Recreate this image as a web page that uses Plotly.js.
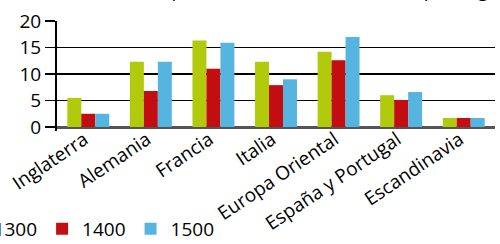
<!DOCTYPE html>
<html>
<head>
<meta charset="utf-8">
<script src="https://cdn.plot.ly/plotly-3.0.1.min.js"></script>
<style>html,body{margin:0;padding:0;background:#fff;}#chart{width:500px;height:244px;}</style>
</head>
<body>
<div id="chart"></div>
<script>
const categories = ["Inglaterra", "Alemania", "Francia", "Italia", "Europa Oriental", "España y Portugal", "Escandinavia"];
const seriesNames = ["1300", "1400", "1500"];
const values1300 = [5.5, 12.3, 16.3, 12.3, 14.2, 6.0, 1.7];
const values1400 = [2.5, 6.8, 11.0, 7.9, 12.6, 5.1, 1.7];
const values1500 = [2.5, 12.3, 15.9, 9.0, 17.0, 6.6, 1.7];
const colors = ["#B1CA0B", "#C20E11", "#56B5E0"];
const yTicks = [0, 5, 10, 15, 20];
const titleText = "Población de Europa (en millones) (estimación por regiones)";

const FONT = "'Open Sans', 'Noto Sans', sans-serif";
const seriesValues = [values1300, values1400, values1500];
const traces = seriesValues.map((v, i) => ({
  type: "bar",
  name: seriesNames[i],
  x: categories,
  y: v,
  marker: {color: colors[i], line: {width: 0}},
  hoverinfo: "skip"
}));

const layout = {
  width: 500,
  height: 244,
  margin: {l: 57, r: 5, t: 21, b: 113, autoexpand: false},
  paper_bgcolor: "#fff",
  plot_bgcolor: "#fff",
  font: {family: FONT, size: 19, color: "#000"},
  barmode: "group",
  bargap: 0.33,
  bargroupgap: 0,
  showlegend: true,
  legend: {
    orientation: "h",
    x: -0.236, xanchor: "left",
    y: -0.89, yanchor: "middle",
    font: {family: FONT, size: 19, color: "#000"},
    bgcolor: "rgba(0,0,0,0)",
    borderwidth: 0
  },
  xaxis: {
    type: "category",
    tickangle: -34,
    showgrid: false,
    showline: false,
    ticks: "",
    ticklabelstandoff: -7,
    ticklabelshift: -4,
    tickfont: {family: FONT, size: 19, color: "#000"},
    fixedrange: true
  },
  yaxis: {
    range: [-0.75, 20],
    tickvals: yTicks,
    ticktext: yTicks.map(String),
    ticks: "outside",
    ticklen: 10,
    tickwidth: 1.5,
    tickcolor: "#000",
    showgrid: true,
    gridcolor: "#000",
    gridwidth: 1.5,
    zeroline: true,
    zerolinecolor: "#555",
    zerolinewidth: 3,
    showline: true,
    linecolor: "#000",
    linewidth: 2,
    tickfont: {family: FONT, size: 19, color: "#000"},
    fixedrange: true
  },
  annotations: [{
    text: titleText,
    xref: "paper", yref: "paper",
    x: 0.5, y: 1, xanchor: "center", yanchor: "bottom",
    yshift: 16,
    showarrow: false,
    font: {family: FONT, size: 19, color: "#000"}
  }]
};

Plotly.newPlot("chart", traces, layout, {displayModeBar: false, staticPlot: true});
</script>
</body>
</html>
